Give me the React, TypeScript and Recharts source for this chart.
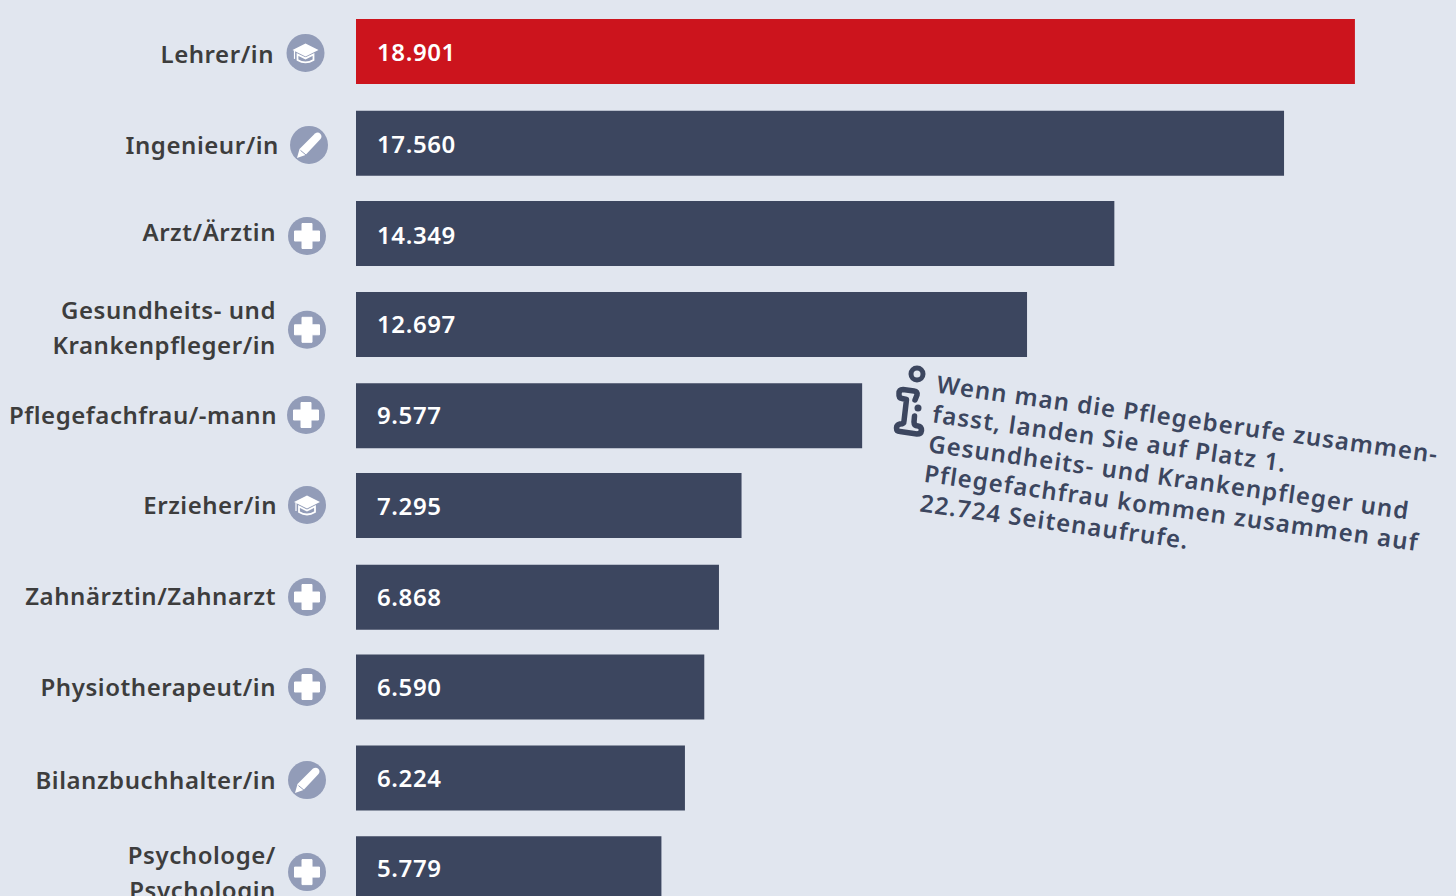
import React from 'react';
import { BarChart, Bar, XAxis, YAxis, Cell, LabelList, Customized, Rectangle } from 'recharts';

const categories = ['Lehrer/in','Ingenieur/in','Arzt/Ärztin','Gesundheits- und|Krankenpfleger/in','Pflegefachfrau/-mann','Erzieher/in','Zahnärztin/Zahnarzt','Physiotherapeut/in','Bilanzbuchhalter/in','Psychologe/|Psychologin'];
const views = [18901,17560,14349,12697,9577,7295,6868,6590,6224,5779];
const icons = ['cap','pen','plus','plus','plus','cap','plus','plus','pen','plus'];
const noteLines = ['Wenn man die Pflegeberufe zusammen-','fasst, landen Sie auf Platz 1.','Gesundheits- und Krankenpfleger und','Pflegefachfrau kommen zusammen auf','22.724 Seitenaufrufe.'];

const labelRight = [274,279,276,276,277,277,276,276,276,276];
const labelNudge = [2.5,2.7,-1,4,0.4,-0.4,-0.2,0,2.3,4.5];
const iconX = [305.5,309,307,307,306,307,307,307,307,307];
const iconNudge = [1.5,2.7,3,6,0.4,-0.4,0.8,0,2.3,3.5];
const barNudge = [0,1,0.4,0.5,1,0,1,0,0,0];
const valueNudge = [1,2,2,0,1,1,1,0,0,0];

const data = categories.map((name, i) => ({ name, views: views[i] }));
const BG = '#e1e6ef', NAVY = '#3c465f', RED = '#cc141d', ICON = '#929cb8', FONT = '"Noto Sans", sans-serif';
const fmt = (v: any) => String(v).replace(/\B(?=(\d{3})+$)/g, '.');

function Glyph({ kind }: { kind: string }) {
  if (kind === 'plus') return <path d="M-5,-12.5H5V-5H12.5V5H5V12.5H-5V5H-12.5V-5H-5Z" fill="#fff" stroke="#fff" strokeWidth="1" strokeLinejoin="round" />;
  if (kind === 'cap') return (
    <g>
      <path d="M-13,-3 L0,-9.5 L13,-3 L0,3.5Z" fill="#fff" />
      <path d="M-8,1.5 V7 Q0,12 8,7 V1.5 L0,5.5Z" fill="none" stroke="#fff" strokeWidth="1.8" />
      <path d="M-11,-2 V6" stroke="#fff" strokeWidth="1.2" />
    </g>
  );
  return (
    <g>
      <path d="M-12,13 L-9.5,4 L6,-11.5 Q9,-13.5 11.5,-11 Q13.5,-8.5 11.5,-6 L-3.5,10Z" fill="#fff" />
      <path d="M-8.5,5.5 L-2.5,10.5" stroke={ICON} strokeWidth="1" />
    </g>
  );
}

function Tick({ x, y, payload, index }: any) {
  const lines = String(payload.value).split('|');
  const cy = y + labelNudge[index];
  const start = cy - ((lines.length - 1) * 35) / 2;
  return (
    <g>
      {lines.map((l, j) => (
        <text key={j} x={labelRight[index]} y={start + j * 35} dy="0.36em" textAnchor="end" fontFamily={FONT} fontSize={24} fontWeight={600} letterSpacing={0.55} fill="#3d3d3d">{l}</text>
      ))}
      <g transform={`translate(${iconX[index]},${y + iconNudge[index]})`}>
        <circle r={19} fill={ICON} />
        <Glyph kind={icons[index]} />
      </g>
    </g>
  );
}

function BarShape(props: any) {
  return <Rectangle {...props} y={props.y + barNudge[props.index]} />;
}

function ValueLabel({ x, y, height, value, index }: any) {
  return (
    <text x={x + 21} y={y + height / 2 + valueNudge[index]} dy="0.36em" fill="#fff" fontFamily={FONT} fontSize={24} fontWeight={600} letterSpacing={0.6}>{fmt(value)}</text>
  );
}

function Note() {
  return (
    <g>
      <g transform="translate(937,384) rotate(8)">
        {noteLines.map((l, i) => (
          <text key={i} x={0} y={i * 30} dy="0.36em" fontFamily={FONT} fontSize={24} fontWeight={600} letterSpacing={1.1} fill={NAVY}>{l}</text>
        ))}
      </g>
      <g fill="none" stroke={NAVY} strokeWidth="5.5" strokeLinejoin="round" strokeLinecap="round">
        <circle cx={917} cy={374} r={6} strokeWidth="5" />
        <path d="M915,400 L917,395 Q917.5,391.5 914,391 L903,389.5 Q899,389.5 899,393.5 Q898.5,398 902,398.5 L906.5,399.5 L904,421 Q904,424 900,424 Q896.5,425 896.5,428 Q896.5,431.5 900,431.5 L917,434 Q921,434 921.5,430.5 Q921.5,426.5 918,426 Q914,426 914,422 L914.5,416" />
      </g>
      <circle cx={918} cy={408} r={3.5} fill={NAVY} />
    </g>
  );
}

export default function App() {
  return (
    <div style={{ position: 'fixed', left: 0, top: 0, width: 1456, height: 896, overflow: 'hidden', background: BG }}>
      <BarChart width={1456} height={920} layout="vertical" data={data} margin={{ top: 6, right: 43, bottom: 6, left: 0 }}>
        <XAxis type="number" hide domain={[0, 20000]} />
        <YAxis type="category" dataKey="name" width={356} axisLine={false} tickLine={false} interval={0} tick={<Tick />} />
        <Bar dataKey="views" barSize={65} isAnimationActive={false} shape={<BarShape />}>
          {data.map((d, i) => <Cell key={d.name} fill={i === 0 ? RED : NAVY} />)}
          <LabelList dataKey="views" content={<ValueLabel />} />
        </Bar>
        <Customized component={Note} />
      </BarChart>
    </div>
  );
}
